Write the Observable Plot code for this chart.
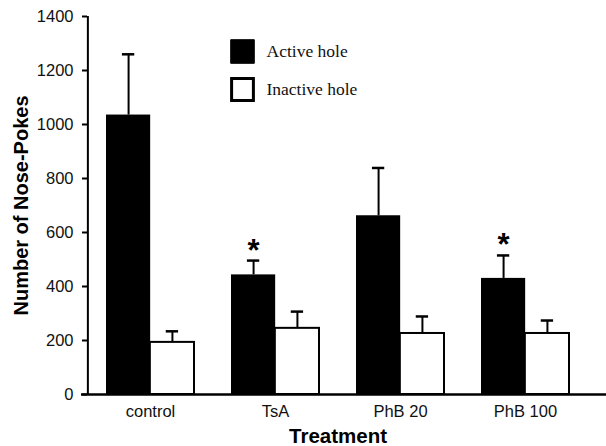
<!DOCTYPE html>
<html>
<head>
<meta charset="utf-8">
<script src="https://cdn.jsdelivr.net/npm/d3@7"></script>
<script src="https://cdn.jsdelivr.net/npm/@observablehq/plot@0.6"></script>
<style>
  html, body { margin: 0; padding: 0; background: #fff; }
</style>
</head>
<body>
<div id="chart"></div>
<script>
const treatments = ["control", "TsA", "PhB 20", "PhB 100"];
const activeMean = [1035, 443, 662, 430];
const activeErr = [225, 53, 177, 85];
const inactiveMean = [193, 245, 226, 226];
const inactiveErr = [41, 62, 63, 48];
const significant = [false, true, false, true];
const yTicks = [0, 200, 400, 600, 800, 1000, 1200, 1400];
const legendLabels = ["Active hole", "Inactive hole"];

const active = treatments.map((t, i) => ({t, v: activeMean[i], e: activeErr[i], sig: significant[i]}));
const inactive = treatments.map((t, i) => ({t, v: inactiveMean[i], e: inactiveErr[i]}));

const W = 606, H = 446;
const mL = 87, mR = 18, mT = 16, mB = 52;
const pInner = 0.3, pOuter = 0.15;
const frameW = W - mL - mR;
const step = frameW / (treatments.length - pInner + 2 * pOuter);
const bw = step * (1 - pInner);
const half = bw / 2;
const capW = 12;
const capIn = half / 2 - capW / 2;
const font = "'Liberation Sans', Arial, sans-serif";
const serif = "'Liberation Serif', 'Times New Roman', serif";

const chart = Plot.plot({
  width: W,
  height: H,
  marginLeft: mL,
  marginRight: mR,
  marginTop: mT,
  marginBottom: mB,
  style: {fontFamily: font, fontSize: "16.5px", color: "#111", background: "#fff"},
  x: {type: "band", domain: treatments, paddingInner: pInner, paddingOuter: pOuter},
  y: {domain: [0, 1400]},
  marks: [
    // error bars
    Plot.ruleX(active, {x: "t", y1: "v", y2: d => d.v + d.e, dx: -half / 2, stroke: "#000", strokeWidth: 2}),
    Plot.tickY(active, {x: "t", y: d => d.v + d.e, insetLeft: capIn, insetRight: bw - capIn - capW, stroke: "#000", strokeWidth: 2.5}),
    Plot.ruleX(inactive, {x: "t", y1: "v", y2: d => d.v + d.e, dx: half / 2, stroke: "#000", strokeWidth: 2}),
    Plot.tickY(inactive, {x: "t", y: d => d.v + d.e, insetLeft: half + capIn, insetRight: capIn, stroke: "#000", strokeWidth: 2.5}),
    // bars
    Plot.barY(active, {x: "t", y: "v", insetLeft: 0, insetRight: half, fill: "#000"}),
    Plot.barY(inactive, {x: "t", y: "v", insetLeft: half, insetRight: 0, fill: "#fff", stroke: "#000", strokeWidth: 2}),
    // significance stars
    Plot.text(active.filter(d => d.sig), {x: "t", y: d => d.v + d.e, text: () => "*", dx: -half / 2, dy: 0, fontSize: 31, fontWeight: "bold", lineAnchor: "bottom", fill: "#000"}),
    // axes
    Plot.axisY({ticks: yTicks, tickSize: 5, tickPadding: 9, fontSize: 16.5, label: null, tickFormat: d => String(d), stroke: "#000", strokeWidth: 2, fill: "#111"}),
    Plot.axisX({tickSize: 0, tickPadding: 11, fontSize: 16.5, label: null, fill: "#111"}),
    Plot.ruleX([treatments[0]], {x: d => d, y1: 0, y2: 1400, dx: -(pOuter * step + bw / 2), stroke: "#000", strokeWidth: 2}),
    Plot.ruleY([0], {insetLeft: -6, insetRight: -mR, stroke: "#000", strokeWidth: 2.5}),
    Plot.text(["Number of Nose-Pokes"], {frameAnchor: "left", textAnchor: "middle", lineAnchor: "middle", rotate: -90, dx: -66, fontSize: 20, fontWeight: "bold", fill: "#000"}),
    Plot.text(["Treatment"], {frameAnchor: "bottom", lineAnchor: "middle", dy: 42, fontSize: 20.5, fontWeight: "bold", fill: "#000"}),
    // legend
    Plot.dot(legendLabels, {filter: (d, i) => i === 0, frameAnchor: "top-left", dx: 155, dy: 35, symbol: "square", r: 13.3, fill: "#000", stroke: "#000", strokeWidth: 1}),
    Plot.dot(legendLabels, {filter: (d, i) => i === 1, frameAnchor: "top-left", dx: 155, dy: 73, symbol: "square", r: 12.3, fill: "#fff", stroke: "#000", strokeWidth: 3}),
    Plot.text(legendLabels, {filter: (d, i) => i === 0, frameAnchor: "top-left", lineAnchor: "middle", dx: 179, dy: 35, textAnchor: "start", fontFamily: serif, fontSize: 17.5, fill: "#111"}),
    Plot.text(legendLabels, {filter: (d, i) => i === 1, frameAnchor: "top-left", lineAnchor: "middle", dx: 179, dy: 73, textAnchor: "start", fontFamily: serif, fontSize: 17.5, fill: "#111"})
  ]
});
document.getElementById("chart").appendChild(chart);
</script>
</body>
</html>
